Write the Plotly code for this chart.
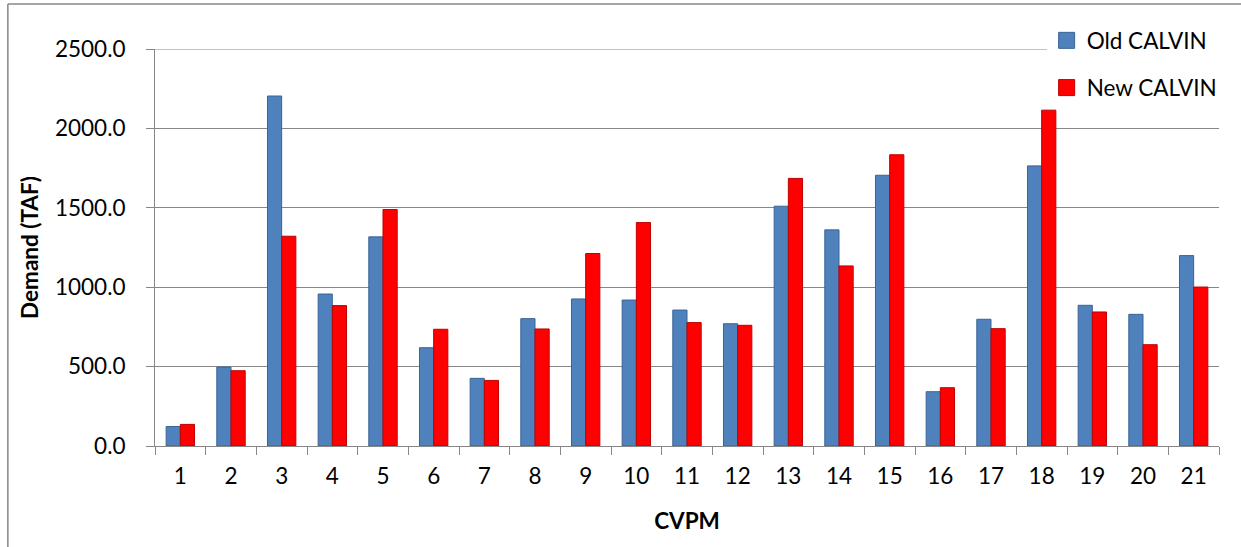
import plotly.graph_objects as go

# CVPM regions and agricultural demand (TAF) under the two CALVIN versions
cvpm = [str(i) for i in range(1, 22)]
old_calvin = [123, 497, 2204, 957, 1317, 619, 426, 802, 926, 919, 856,
              770, 1510, 1361, 1705, 342, 798, 1764, 886, 829, 1199]
new_calvin = [136, 474, 1321, 884, 1489, 735, 413, 737, 1212, 1407, 777,
              760, 1685, 1134, 1834, 367, 739, 2115, 844, 638, 1001]
y_ticks = [0, 500, 1000, 1500, 2000, 2500]

FONT = "Lato"
FSIZE = 22.5
GRID = "#878787"
BLUE, BLUE_EDGE = "#4F81BD", "#3A6496"
RED, RED_EDGE = "#FF0000", "#C00000"

fig = go.Figure()
fig.add_trace(go.Bar(
    x=cvpm, y=old_calvin, name="Old CALVIN", showlegend=False,
    marker=dict(color=BLUE, line=dict(color=BLUE_EDGE, width=1)),
))
fig.add_trace(go.Bar(
    x=cvpm, y=new_calvin, name="New CALVIN", showlegend=False,
    marker=dict(color=RED, line=dict(color=RED_EDGE, width=1)),
))

# legend entries with larger square swatches
for name, col, edge, grp in [("Old CALVIN", BLUE, BLUE_EDGE, "old"),
                             ("New CALVIN", RED, RED_EDGE, "new")]:
    fig.add_trace(go.Scatter(
        x=[None], y=[None], mode="markers", name=name, legendgroup=grp,
        marker=dict(symbol="square", size=16, color=col,
                    line=dict(color=edge, width=1)),
    ))

fig.update_layout(
    width=1241, height=547,
    margin=dict(l=155, r=22, t=49, b=101, autoexpand=False),
    paper_bgcolor="white", plot_bgcolor="white",
    barmode="group", bargap=0.44, bargroupgap=0.0,
    font=dict(family=FONT, size=FSIZE, color="black"),
    showlegend=True,
    legend=dict(
        x=0.838, y=1.075, xanchor="left", yanchor="top",
        bgcolor="white", borderwidth=0,
        font=dict(family=FONT, size=FSIZE, color="black"),
        traceorder="grouped", tracegroupgap=15, itemwidth=30,
    ),
    xaxis=dict(
        type="category", showgrid=False,
        showline=True, linecolor=GRID, linewidth=1,
        ticks="outside", tickson="boundaries", ticklen=8, tickcolor=GRID,
        ticklabelstandoff=10,
        title=dict(text="<b>CVPM</b>", font=dict(family=FONT, size=FSIZE), standoff=25),
    ),
    yaxis=dict(
        range=[0, y_ticks[-1]], tickvals=y_ticks, tickformat=".1f",
        showgrid=True, gridcolor=GRID, gridwidth=1,
        showline=True, linecolor=GRID, linewidth=1,
        ticks="outside", ticklen=8, tickcolor=GRID,
        ticklabelstandoff=16, zeroline=False,
        title=dict(text="<b>Demand (TAF)</b>", font=dict(family=FONT, size=FSIZE), standoff=10),
    ),
    shapes=[
        # top gridline at the axis maximum
        dict(type="line", xref="paper", yref="y", layer="below",
             x0=0, x1=1, y0=y_ticks[-1], y1=y_ticks[-1],
             line=dict(color=GRID, width=1)),
        # chart frame: left and top edges
        dict(type="line", xref="paper", yref="paper",
             x0=-0.1383, x1=-0.1383, y0=1.1135, y1=-0.3,
             line=dict(color=GRID, width=1.5)),
        dict(type="line", xref="paper", yref="paper",
             x0=-0.1383, x1=1.03, y0=1.1135, y1=1.1135,
             line=dict(color=GRID, width=1.5)),
    ],
)

fig.write_html("out.html")
